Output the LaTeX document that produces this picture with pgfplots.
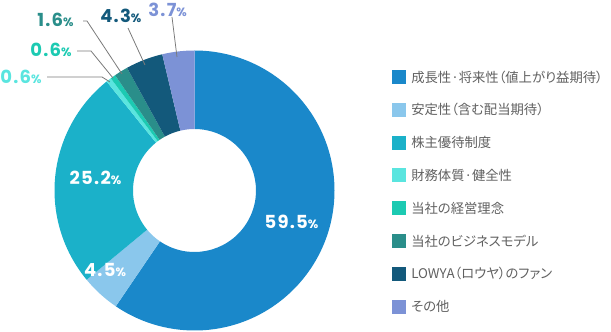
\documentclass[border=0pt]{standalone}
\usepackage{pgfplots}
\pgfplotsset{compat=1.18}
\usepackage{pgfplotstable}
\usepackage{fontspec}
\setmainfont{Poppins}
\newfontfamily\numf[LetterSpace=7]{Poppins}
\newfontfamily\jp[RawFeature=+palt]{Noto Sans CJK JP}
\definecolor{c1}{HTML}{1A88CA}
\definecolor{c2}{HTML}{8AC7EC}
\definecolor{c3}{HTML}{1BB1C9}
\definecolor{c4}{HTML}{5AE5DF}
\definecolor{c5}{HTML}{1CCAB2}
\definecolor{c6}{HTML}{2A8E8A}
\definecolor{c7}{HTML}{13597B}
\definecolor{c8}{HTML}{7C92D6}
\definecolor{txt}{HTML}{606060}
\definecolor{lead}{HTML}{7A7A7A}
\pgfplotstableread{
val col
59.5 c1
4.5 c2
25.2 c3
0.6 c4
0.6 c5
1.6 c6
4.3 c7
3.7 c8
}\donut
\newcommand\pct[1]{{\numf\bfseries\fontsize{13.5}{13.5}\selectfont #1{\fontsize{9}{9}\selectfont\%}}}
\newcommand\leg[3]{\fill[#2] (axis cs:392,#1-7) rectangle (axis cs:406,#1+7);
  \node[txt,anchor=west,inner sep=0pt,font=\jp\fontsize{10}{11}\selectfont] at (axis cs:411,#1) {#3};}
\begin{document}
\begin{tikzpicture}
\begin{axis}[x=0.75pt,y=0.75pt,xmin=0,xmax=611,ymin=0,ymax=332,hide axis,clip=false,scale only axis]
\path (axis cs:0,0) rectangle (axis cs:611,332);
\def\cx{194.5}\def\cy{141.5}\def\R{140}\def\r{61.5}
\def\astart{90}
\pgfplotsforeachungrouped \i in {0,...,7}{%
  \pgfplotstablegetelem{\i}{val}\of\donut \let\v\pgfplotsretval
  \pgfplotstablegetelem{\i}{col}\of\donut \let\c\pgfplotsretval
  \pgfmathsetmacro\aend{\astart-3.6*\v}
  \pgfmathsetmacro\xa{\cx+\R*cos(\astart)}
  \pgfmathsetmacro\ya{\cy+\R*sin(\astart)}
  \pgfmathsetmacro\xb{\cx+\r*cos(\aend)}
  \pgfmathsetmacro\yb{\cy+\r*sin(\aend)}
  \pgfmathsetmacro\Rpt{\R*0.75}
  \pgfmathsetmacro\rpt{\r*0.75}
  \edef\temp{\noexpand\fill[\c] (axis cs:\xa,\ya) arc[start angle=\astart,end angle=\aend,radius=\Rpt pt] -- (axis cs:\xb,\yb) arc[start angle=\aend,end angle=\astart,radius=\rpt pt] -- cycle;}
  \temp
  \global\let\astart\aend
}
% leader lines
\draw[lead,line width=0.6pt] (axis cs:47,255) -- (axis cs:102,255) -- (axis cs:110,250);
\draw[lead,line width=0.6pt] (axis cs:77,281) -- (axis cs:91,281) -- (axis cs:113,254);
\draw[lead,line width=0.6pt] (axis cs:83,311) -- (axis cs:87,311) -- (axis cs:122,258);
\draw[lead,line width=0.6pt] (axis cs:128,304) -- (axis cs:145,267);
\draw[lead,line width=0.6pt] (axis cs:172,315) -- (axis cs:177,275);
% labels
\node[white,anchor=center,inner sep=0pt] at (axis cs:291.5,110) {\pct{59.5}};
\node[white,anchor=center,inner sep=0pt] at (axis cs:105,62) {\pct{4.5}};
\node[white,anchor=center,inner sep=0pt] at (axis cs:95.5,154) {\pct{25.2}};
\node[c4,anchor=west,inner sep=0pt] at (axis cs:0,255) {\pct{0.6}};
\node[c5,anchor=west,inner sep=0pt] at (axis cs:30,282) {\pct{0.6}};
\node[c6,anchor=west,inner sep=0pt] at (axis cs:37,312) {\pct{1.6}};
\node[c7,anchor=west,inner sep=0pt] at (axis cs:100,316) {\pct{4.3}};
\node[c8,anchor=west,inner sep=0pt] at (axis cs:148,322) {\pct{3.7}};
% legend
\leg{255}{c1}{成長性·将来性（値上がり益期待）}
\leg{222.2}{c2}{安定性（含む配当期待）}
\leg{189.4}{c3}{株主優待制度}
\leg{156.6}{c4}{財務体質·健全性}
\leg{123.8}{c5}{当社の経営理念}
\leg{91}{c6}{当社のビジネスモデル}
\leg{58.2}{c7}{LOWYA（ロウヤ）のファン}
\leg{25.4}{c8}{その他}
\end{axis}
\pgfresetboundingbox
\path[use as bounding box] (0,0) rectangle (458.25pt,249pt);
\end{tikzpicture}
\end{document}
